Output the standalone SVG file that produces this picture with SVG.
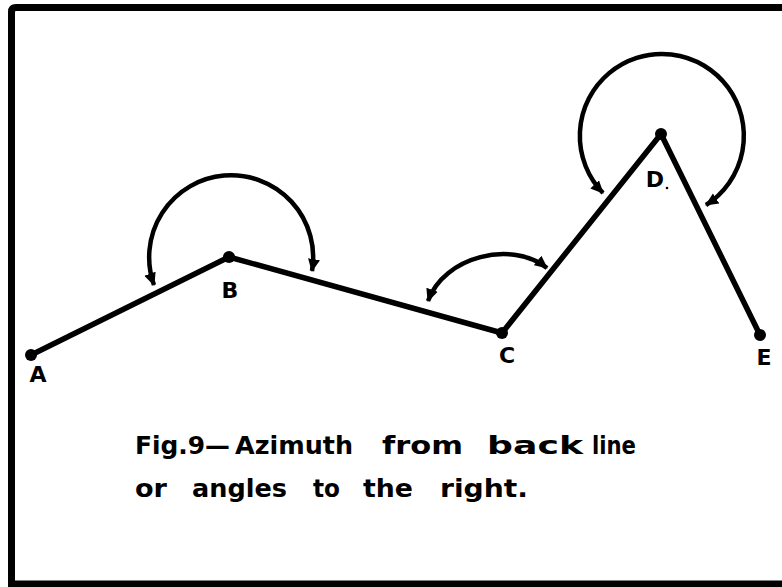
<svg xmlns="http://www.w3.org/2000/svg" width="782" height="587" viewBox="0 0 782 587">
<style>
.line{stroke:#000;stroke-width:5.5;fill:none;stroke-linecap:round;stroke-linejoin:round}
.arc{stroke:#000;stroke-width:4.5;fill:none;marker-start:url(#ah0);marker-end:url(#ah)}
.dot{fill:#000}
.lbl{font-family:"DejaVu Sans","Liberation Sans",sans-serif;font-weight:bold;font-size:22px;fill:#000;text-anchor:middle}
.cap{font-family:"DejaVu Sans","Liberation Sans",sans-serif;font-weight:bold;font-size:25px;fill:#000}
</style>
<defs>
<marker id="ah" markerUnits="userSpaceOnUse" markerWidth="14" markerHeight="14" refX="12" refY="7" orient="auto" viewBox="0 0 14 14"><path d="M0,1 L13,7 L0,13 z" fill="#000"/></marker>
<marker id="ah0" markerUnits="userSpaceOnUse" markerWidth="14" markerHeight="14" refX="12" refY="7" orient="auto-start-reverse" viewBox="0 0 14 14"><path d="M0,1 L13,7 L0,13 z" fill="#000"/></marker>
</defs>
<rect width="782" height="587" fill="#fff"/>
<path id="frame" d="M782,7.5 L16,7.5 Q11.5,7.5 11.5,12 L11.5,584 L782,584" fill="none" stroke="#000" stroke-width="7"/>
<g id="connectors">
<path class="line" d="M31,355 L229,257 L502,333 L661,134 L760,335"/>
<path class="arc" d="M154,285 A82,82 0 1 1 312,271"/>
<path class="arc" d="M428,301 C444,256 512,240 547,268"/>
<path class="arc" d="M603,193 A82,82 0 1 1 706,205"/>
</g>
<g id="node-A"><circle class="dot" cx="31" cy="355" r="6"/><text class="lbl" x="38" y="382">A</text></g>
<g id="node-B"><circle class="dot" cx="229" cy="257" r="6"/><text class="lbl" x="230" y="298">B</text></g>
<g id="node-C"><circle class="dot" cx="502" cy="333" r="6"/><text class="lbl" x="507" y="363">C</text></g>
<g id="node-D"><circle class="dot" cx="661" cy="134" r="6"/><text class="lbl" x="655" y="187">D</text><circle class="dot" cx="667" cy="188" r="1.3"/></g>
<g id="node-E"><circle class="dot" cx="760" cy="335" r="6"/><text class="lbl" x="764" y="365">E</text></g>
<g id="caption">
<text class="cap" y="454"><tspan x="135" textLength="95" lengthAdjust="spacingAndGlyphs">Fig.9—</tspan><tspan x="235" textLength="118" lengthAdjust="spacingAndGlyphs">Azimuth</tspan><tspan x="382" textLength="81" lengthAdjust="spacingAndGlyphs">from</tspan><tspan x="487" textLength="96" lengthAdjust="spacingAndGlyphs">back</tspan><tspan x="592" textLength="44" lengthAdjust="spacingAndGlyphs">line</tspan></text>
<text class="cap" y="497"><tspan x="135" textLength="32" lengthAdjust="spacingAndGlyphs">or</tspan><tspan x="192" textLength="95" lengthAdjust="spacingAndGlyphs">angles</tspan><tspan x="313" textLength="27" lengthAdjust="spacingAndGlyphs">to</tspan><tspan x="363" textLength="50" lengthAdjust="spacingAndGlyphs">the</tspan><tspan x="440" textLength="88" lengthAdjust="spacingAndGlyphs">right.</tspan></text>
</g>
</svg>
